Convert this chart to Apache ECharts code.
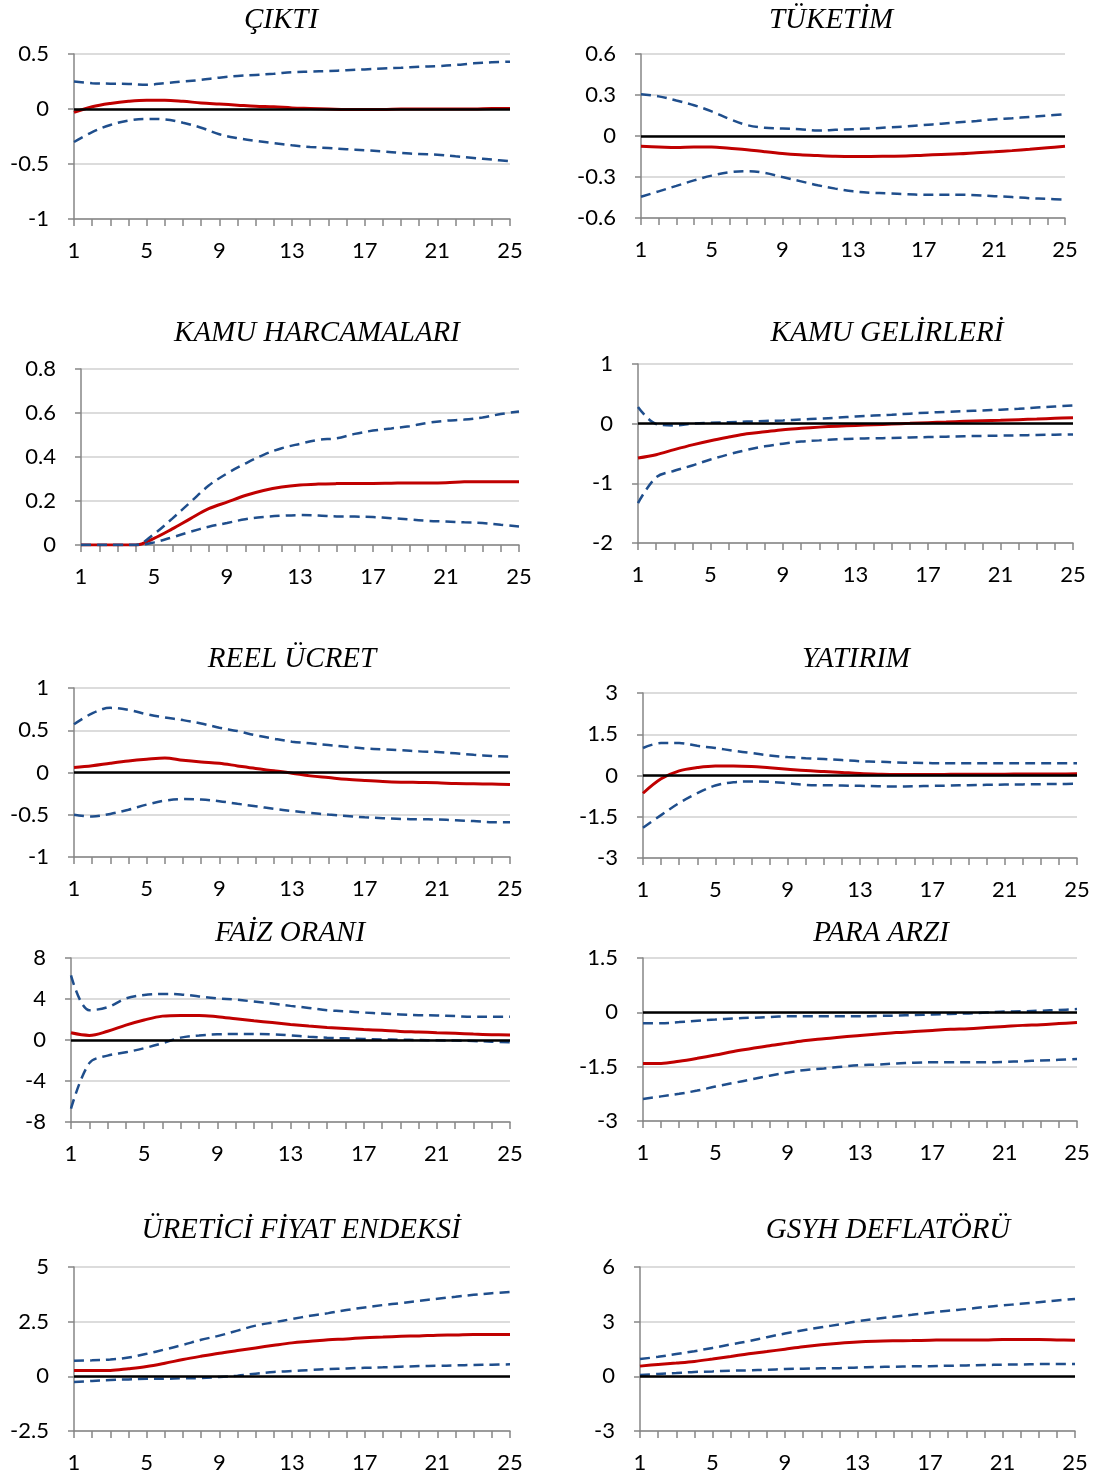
<!DOCTYPE html>
<html>
<head>
<meta charset="utf-8">
<script src="https://cdn.jsdelivr.net/npm/echarts@6/dist/echarts.min.js"></script>
<style>
html,body{margin:0;padding:0;background:#fff;}
#chart{width:1099px;height:1481px;}
</style>
</head>
<body>
<div id="chart"></div>
<script>
// ---------- DATA ----------
const periods = ['1','2','3','4','5','6','7','8','9','10','11','12','13','14','15','16','17','18','19','20','21','22','23','24','25'];

const titles = ['ÇIKTI','TÜKETİM','KAMU HARCAMALARI','KAMU GELİRLERİ','REEL ÜCRET','YATIRIM','FAİZ ORANI','PARA ARZI','ÜRETİCİ FİYAT ENDEKSİ','GSYH DEFLATÖRÜ'];
const yMins = [-1, -0.6, 0, -2, -1, -3, -8, -3, -2.5, -3];
const yMaxs = [0.5, 0.6, 0.8, 1, 1, 3, 8, 1.5, 5, 6];
const yIntervals = [0.5, 0.3, 0.2, 1, 0.5, 1.5, 4, 1.5, 2.5, 3];

const ciktiResp  = [-0.03,0.02,0.05,0.07,0.08,0.08,0.07,0.055,0.045,0.035,0.025,0.02,0.01,0.005,0,-0.005,-0.005,-0.005,0,0,0,0,0,0.005,0.005];
const ciktiUpper = [0.25,0.235,0.23,0.228,0.22,0.235,0.25,0.265,0.285,0.3,0.31,0.32,0.335,0.34,0.345,0.352,0.36,0.368,0.375,0.383,0.39,0.4,0.415,0.425,0.43];
const ciktiLower = [-0.30,-0.21,-0.145,-0.105,-0.09,-0.095,-0.125,-0.17,-0.23,-0.265,-0.29,-0.31,-0.33,-0.345,-0.355,-0.365,-0.375,-0.385,-0.40,-0.41,-0.415,-0.43,-0.445,-0.46,-0.475];

const tuketimResp  = [-0.075,-0.08,-0.085,-0.08,-0.08,-0.09,-0.1,-0.115,-0.128,-0.137,-0.143,-0.148,-0.15,-0.15,-0.148,-0.146,-0.14,-0.135,-0.13,-0.122,-0.115,-0.107,-0.097,-0.086,-0.075];
const tuketimUpper = [0.305,0.29,0.26,0.225,0.18,0.125,0.08,0.06,0.055,0.05,0.04,0.045,0.05,0.055,0.063,0.07,0.08,0.09,0.1,0.11,0.123,0.13,0.14,0.15,0.16];
const tuketimLower = [-0.445,-0.405,-0.365,-0.325,-0.29,-0.265,-0.257,-0.27,-0.30,-0.33,-0.36,-0.385,-0.405,-0.415,-0.42,-0.425,-0.43,-0.43,-0.43,-0.433,-0.44,-0.447,-0.455,-0.46,-0.465];

const harcamaResp  = [0,0,0,0,0.03,0.073,0.12,0.165,0.195,0.225,0.248,0.264,0.273,0.277,0.279,0.28,0.28,0.281,0.282,0.282,0.283,0.287,0.288,0.288,0.288];
const harcamaUpper = [0,0,0,0,0.05,0.12,0.195,0.27,0.325,0.37,0.41,0.44,0.46,0.478,0.485,0.505,0.52,0.53,0.54,0.555,0.565,0.57,0.58,0.595,0.607];
const harcamaLower = [0,0,0,0,0.012,0.035,0.06,0.083,0.1,0.117,0.127,0.133,0.136,0.134,0.13,0.129,0.127,0.122,0.116,0.11,0.107,0.103,0.1,0.092,0.084];

const gelirResp  = [-0.575,-0.52,-0.435,-0.355,-0.285,-0.225,-0.17,-0.135,-0.1,-0.078,-0.058,-0.042,-0.03,-0.018,-0.006,0.005,0.017,0.028,0.04,0.048,0.056,0.067,0.078,0.09,0.1];
const gelirUpper = [0.28,-0.005,-0.03,0.0,0.015,0.025,0.035,0.045,0.055,0.07,0.085,0.1,0.12,0.135,0.15,0.168,0.185,0.198,0.21,0.222,0.235,0.25,0.27,0.288,0.305];
const gelirLower = [-1.33,-0.9,-0.79,-0.7,-0.6,-0.515,-0.44,-0.38,-0.335,-0.3,-0.28,-0.263,-0.25,-0.245,-0.24,-0.232,-0.225,-0.218,-0.21,-0.205,-0.2,-0.195,-0.19,-0.185,-0.18];

const ucretResp  = [0.06,0.08,0.11,0.137,0.157,0.172,0.145,0.125,0.11,0.078,0.047,0.02,-0.008,-0.04,-0.06,-0.08,-0.094,-0.106,-0.114,-0.118,-0.122,-0.13,-0.133,-0.137,-0.141];
const ucretUpper = [0.57,0.7,0.765,0.74,0.69,0.65,0.62,0.58,0.53,0.49,0.44,0.4,0.365,0.345,0.325,0.305,0.285,0.275,0.263,0.25,0.243,0.227,0.21,0.196,0.188];
const ucretLower = [-0.5,-0.52,-0.49,-0.44,-0.38,-0.333,-0.314,-0.32,-0.34,-0.37,-0.4,-0.43,-0.455,-0.478,-0.498,-0.514,-0.53,-0.54,-0.55,-0.553,-0.557,-0.565,-0.575,-0.588,-0.59];

const yatirimResp  = [-0.645,-0.12,0.17,0.29,0.35,0.35,0.33,0.28,0.23,0.18,0.146,0.11,0.073,0.05,0.036,0.036,0.036,0.043,0.05,0.05,0.05,0.053,0.055,0.058,0.06];
const yatirimUpper = [1.0,1.18,1.18,1.08,1.0,0.9,0.815,0.73,0.67,0.63,0.6,0.56,0.52,0.5,0.475,0.46,0.45,0.45,0.45,0.45,0.45,0.45,0.45,0.45,0.45];
const yatirimLower = [-1.9,-1.44,-1.0,-0.645,-0.365,-0.243,-0.22,-0.23,-0.28,-0.34,-0.353,-0.365,-0.377,-0.39,-0.4,-0.39,-0.377,-0.365,-0.353,-0.34,-0.33,-0.323,-0.316,-0.308,-0.3];

const faizResp  = [0.7,0.45,0.85,1.45,1.95,2.33,2.4,2.4,2.27,2.07,1.87,1.7,1.52,1.36,1.23,1.13,1.03,0.94,0.84,0.78,0.71,0.65,0.58,0.52,0.48];
const faizUpper = [6.3,2.9,3.2,4.05,4.4,4.5,4.45,4.25,4.07,3.94,3.75,3.55,3.33,3.13,2.9,2.8,2.68,2.58,2.49,2.42,2.39,2.33,2.26,2.26,2.26];
const faizLower = [-6.7,-2.26,-1.52,-1.2,-0.8,-0.32,0.23,0.45,0.55,0.58,0.58,0.55,0.45,0.32,0.23,0.16,0.1,0.06,0.03,0,-0.03,-0.06,-0.1,-0.16,-0.22];

const paraResp  = [-1.41,-1.41,-1.35,-1.27,-1.18,-1.08,-1.0,-0.92,-0.85,-0.78,-0.73,-0.68,-0.64,-0.6,-0.56,-0.53,-0.5,-0.47,-0.45,-0.42,-0.39,-0.36,-0.34,-0.31,-0.28];
const paraUpper = [-0.3,-0.3,-0.27,-0.23,-0.2,-0.17,-0.15,-0.13,-0.11,-0.11,-0.11,-0.11,-0.11,-0.1,-0.09,-0.075,-0.06,-0.045,-0.03,-0.005,0.02,0.03,0.045,0.065,0.09];
const paraLower = [-2.39,-2.32,-2.25,-2.16,-2.05,-1.95,-1.85,-1.75,-1.66,-1.59,-1.55,-1.5,-1.46,-1.44,-1.41,-1.39,-1.38,-1.38,-1.38,-1.38,-1.37,-1.35,-1.33,-1.31,-1.29];

const ufeResp  = [0.27,0.27,0.27,0.35,0.45,0.6,0.77,0.92,1.06,1.18,1.3,1.42,1.53,1.6,1.67,1.71,1.77,1.8,1.83,1.85,1.88,1.89,1.91,1.91,1.91];
const ufeUpper = [0.71,0.73,0.77,0.86,1.03,1.23,1.44,1.67,1.86,2.09,2.32,2.47,2.62,2.77,2.89,3.03,3.15,3.26,3.35,3.45,3.55,3.64,3.73,3.8,3.86];
const ufeLower = [-0.26,-0.21,-0.17,-0.14,-0.11,-0.11,-0.09,-0.08,-0.03,0.03,0.12,0.2,0.24,0.29,0.33,0.36,0.39,0.41,0.44,0.47,0.48,0.5,0.52,0.53,0.55];

const deflResp  = [0.56,0.65,0.73,0.82,0.95,1.09,1.24,1.36,1.49,1.62,1.73,1.82,1.89,1.93,1.95,1.96,1.98,2.0,2.0,2.0,2.02,2.02,2.02,2.0,1.98];
const deflUpper = [0.95,1.07,1.22,1.38,1.56,1.75,1.93,2.15,2.35,2.53,2.69,2.85,3.02,3.15,3.27,3.38,3.49,3.6,3.69,3.8,3.89,3.98,4.07,4.16,4.25];
const deflLower = [0.07,0.13,0.18,0.24,0.27,0.31,0.33,0.36,0.4,0.42,0.44,0.45,0.49,0.51,0.53,0.55,0.56,0.58,0.6,0.62,0.64,0.65,0.67,0.67,0.67];

const responses = [ciktiResp, tuketimResp, harcamaResp, gelirResp, ucretResp, yatirimResp, faizResp, paraResp, ufeResp, deflResp];
const uppers = [ciktiUpper, tuketimUpper, harcamaUpper, gelirUpper, ucretUpper, yatirimUpper, faizUpper, paraUpper, ufeUpper, deflUpper];
const lowers = [ciktiLower, tuketimLower, harcamaLower, gelirLower, ucretLower, yatirimLower, faizLower, paraLower, ufeLower, deflLower];

// ---------- LAYOUT ----------
const gridBoxes = [
  [74, 54, 436, 165], [641, 54, 424, 164],
  [81, 369, 438, 176], [638, 364, 435, 179],
  [74, 688, 436, 169], [643, 693, 434, 165],
  [71, 958, 439, 164], [643, 958, 434, 163],
  [74, 1267, 436, 164], [640, 1267, 435, 164]
];
const titlePos = [
  [276, 18], [826, 18], [312, 331], [882, 331], [287, 657],
  [851, 657], [285, 931], [876, 931], [296, 1228], [883, 1228]
];

const chart = echarts.init(document.getElementById('chart'), null, {renderer: 'canvas'});
const axisColor = '#868686';
const labelFont = 'Lato, "Open Sans", sans-serif';

const option = {
  backgroundColor: '#ffffff',
  animation: false,
  title: [], grid: [], xAxis: [], yAxis: [], series: []
};

titles.forEach((t, i) => {
  option.title.push({
    text: t,
    left: titlePos[i][0], top: titlePos[i][1] - 17,
    textAlign: 'center',
    textStyle: {fontFamily: '"Liberation Serif", "Times New Roman", serif', fontStyle: 'italic', fontWeight: 'normal', fontSize: 29, color: '#000'}
  });
  const b = gridBoxes[i];
  option.grid.push({left: b[0], top: b[1], width: b[2], height: b[3], containLabel: false});
  option.xAxis.push({
    type: 'category', gridIndex: i, data: periods, boundaryGap: false,
    axisLine: {onZero: false, lineStyle: {color: axisColor, width: 1.5}},
    axisTick: {show: true, interval: 0, length: 7, lineStyle: {color: axisColor, width: 1.5}},
    axisLabel: {interval: 3, margin: 21, fontSize: 22, fontFamily: labelFont, color: '#000'},
    splitLine: {show: false}
  });
  option.yAxis.push({
    type: 'value', gridIndex: i, min: yMins[i], max: yMaxs[i], interval: yIntervals[i],
    axisLine: {show: true, lineStyle: {color: axisColor, width: 1.5}},
    axisTick: {show: true, length: 6, lineStyle: {color: axisColor, width: 1.5}},
    axisLabel: {margin: 25, fontSize: 22, fontFamily: labelFont, color: '#000'},
    splitLine: {show: true, lineStyle: {color: '#d0d0d0', width: 1.5}}
  });
  const zeroMark = yMins[i] < 0 ? {
    silent: true, symbol: 'none', label: {show: false},
    lineStyle: {color: '#000', width: 2.5, type: 'solid'},
    data: [{yAxis: 0}]
  } : undefined;
  option.series.push({
    type: 'line', xAxisIndex: i, yAxisIndex: i, data: responses[i],
    smooth: 0.35, showSymbol: false, symbol: 'none',
    lineStyle: {color: '#c00000', width: 3}, z: 3,
    markLine: zeroMark
  });
  option.series.push({
    type: 'line', xAxisIndex: i, yAxisIndex: i, data: uppers[i],
    smooth: 0.35, showSymbol: false, symbol: 'none',
    lineStyle: {color: '#1f4e8c', width: 2.5, type: [10, 6]}, z: 4
  });
  option.series.push({
    type: 'line', xAxisIndex: i, yAxisIndex: i, data: lowers[i],
    smooth: 0.35, showSymbol: false, symbol: 'none',
    lineStyle: {color: '#1f4e8c', width: 2.5, type: [10, 6]}, z: 4
  });
});

chart.setOption(option);
</script>
</body>
</html>
